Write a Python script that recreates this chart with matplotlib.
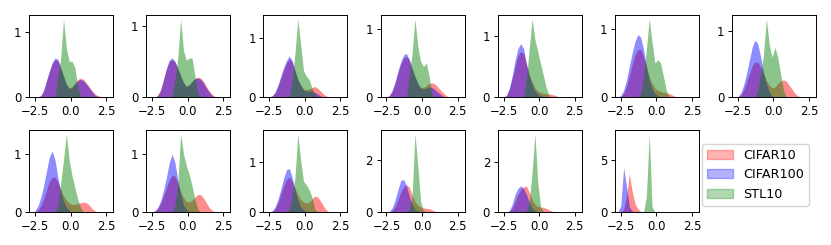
import matplotlib.pyplot as plt
from matplotlib.patches import Patch
from matplotlib.ticker import MaxNLocator
import numpy as np

plt.rcParams['font.size'] = 8.4

# density values read at bin centres -2.9, -2.7, ..., 2.9 (step 0.2)
centres = np.round(np.arange(-2.9, 2.91, 0.2), 2)

# one list per panel (13 panels)
cifar10 = [
    [0, 0, 0, 0, .02, .10, .24, .38, .50, .57, .56, .45, .32, .20, .14, .16, .22, .27, .29, .27, .22, .16, .10, .05, .02, .01, 0, 0, 0, 0],
    [0, 0, 0, 0, .03, .11, .25, .40, .50, .53, .50, .40, .30, .20, .15, .17, .22, .26, .28, .27, .22, .15, .09, .04, .01, 0, 0, 0, 0, 0],
    [0, 0, 0, .02, .07, .18, .32, .46, .58, .65, .60, .45, .30, .20, .14, .12, .14, .16, .18, .15, .10, .05, .02, 0, 0, 0, 0, 0, 0, 0],
    [0, 0, 0, .02, .08, .20, .35, .48, .57, .60, .55, .42, .30, .20, .14, .14, .17, .20, .21, .19, .15, .10, .06, .02, 0, 0, 0, 0, 0, 0],
    [0, 0, 0, .02, .12, .30, .50, .68, .75, .72, .55, .38, .25, .15, .10, .07, .06, .05, .05, .04, .03, .01, 0, 0, 0, 0, 0, 0, 0, 0],
    [0, 0, .01, .05, .15, .30, .48, .62, .70, .70, .60, .45, .30, .20, .13, .10, .08, .07, .06, .05, .03, .01, 0, 0, 0, 0, 0, 0, 0, 0],
    [0, 0, 0, .03, .10, .22, .35, .47, .53, .52, .45, .35, .25, .18, .14, .15, .20, .24, .26, .24, .18, .12, .06, .02, 0, 0, 0, 0, 0, 0],
    [0, 0, 0, .03, .10, .22, .38, .52, .60, .60, .52, .40, .28, .20, .15, .13, .13, .14, .16, .17, .16, .12, .06, .02, 0, 0, 0, 0, 0, 0],
    [0, 0, 0, .02, .06, .15, .28, .42, .55, .63, .62, .50, .35, .25, .18, .17, .20, .26, .30, .30, .24, .16, .08, .03, 0, 0, 0, 0, 0, 0],
    [0, 0, 0, .01, .06, .18, .35, .52, .65, .70, .62, .48, .35, .25, .20, .18, .20, .26, .32, .30, .22, .12, .04, 0, 0, 0, 0, 0, 0, 0],
    [0, 0, 0, 0, .05, .20, .45, .75, .95, 1.05, .95, .65, .40, .25, .18, .15, .14, .12, .08, .03, 0, 0, 0, 0, 0, 0, 0, 0, 0, 0],
    [0, 0, 0, 0, .03, .15, .40, .70, .90, 1.00, 1.05, .80, .50, .30, .22, .20, .18, .14, .08, .03, 0, 0, 0, 0, 0, 0, 0, 0, 0, 0],
    [0, 0, 0, .20, 1.50, 3.70, 2.00, .80, .30, .05, 0, 0, 0, 0, 0, 0, 0, 0, 0, 0, 0, 0, 0, 0, 0, 0, 0, 0, 0, 0],
]
cifar100 = [
    [0, 0, 0, 0, .02, .10, .25, .40, .53, .60, .58, .45, .32, .20, .13, .15, .20, .25, .27, .25, .20, .14, .08, .03, .01, 0, 0, 0, 0, 0],
    [0, 0, 0, 0, .02, .10, .25, .40, .52, .55, .50, .40, .30, .20, .15, .17, .22, .26, .27, .25, .20, .13, .07, .02, 0, 0, 0, 0, 0, 0],
    [0, 0, 0, .02, .08, .20, .35, .50, .62, .70, .62, .45, .30, .20, .12, .10, .10, .10, .08, .05, .02, 0, 0, 0, 0, 0, 0, 0, 0, 0],
    [0, 0, 0, .02, .10, .22, .38, .52, .62, .64, .55, .42, .30, .20, .13, .12, .13, .15, .14, .11, .07, .04, .01, 0, 0, 0, 0, 0, 0, 0],
    [0, 0, 0, .03, .15, .35, .60, .80, .88, .80, .55, .35, .20, .10, .05, .02, .01, 0, 0, 0, 0, 0, 0, 0, 0, 0, 0, 0, 0, 0],
    [0, 0, .02, .10, .25, .45, .65, .82, .92, .88, .70, .45, .25, .12, .05, .02, 0, 0, 0, 0, 0, 0, 0, 0, 0, 0, 0, 0, 0, 0],
    [0, 0, .01, .06, .18, .35, .55, .75, .86, .80, .60, .38, .20, .08, .02, 0, 0, 0, 0, 0, 0, 0, 0, 0, 0, 0, 0, 0, 0, 0],
    [0, 0, .02, .10, .25, .45, .70, .95, 1.05, .90, .60, .35, .18, .08, .03, 0, 0, 0, 0, 0, 0, 0, 0, 0, 0, 0, 0, 0, 0, 0],
    [0, 0, 0, .02, .08, .20, .38, .60, .85, 1.00, .85, .55, .30, .12, .04, .01, 0, 0, 0, 0, 0, 0, 0, 0, 0, 0, 0, 0, 0, 0],
    [0, 0, 0, .02, .10, .25, .45, .68, .85, .88, .70, .45, .25, .10, .04, .01, 0, 0, 0, 0, 0, 0, 0, 0, 0, 0, 0, 0, 0, 0],
    [0, 0, 0, .02, .15, .45, .85, 1.20, 1.25, 1.00, .60, .30, .10, .03, 0, 0, 0, 0, 0, 0, 0, 0, 0, 0, 0, 0, 0, 0, 0, 0],
    [0, 0, 0, 0, .05, .30, .70, .95, 1.05, .95, .70, .40, .15, .05, 0, 0, 0, 0, 0, 0, 0, 0, 0, 0, 0, 0, 0, 0, 0, 0],
    [0, 0, .60, 4.30, 2.50, .50, .10, 0, 0, 0, 0, 0, 0, 0, 0, 0, 0, 0, 0, 0, 0, 0, 0, 0, 0, 0, 0, 0, 0, 0],
]
stl10 = [
    [0, 0, 0, 0, 0, 0, 0, 0, 0, 0, .30, .60, 1.20, .75, .55, .55, .45, .15, .02, 0, 0, 0, 0, 0, 0, 0, 0, 0, 0, 0],
    [0, 0, 0, 0, 0, 0, 0, 0, 0, 0, .25, .55, 1.10, .65, .52, .55, .55, .30, .05, 0, 0, 0, 0, 0, 0, 0, 0, 0, 0, 0],
    [0, 0, 0, 0, 0, 0, 0, 0, 0, 0, .30, .75, 1.33, .90, .45, .35, .30, .15, .03, 0, 0, 0, 0, 0, 0, 0, 0, 0, 0, 0],
    [0, 0, 0, 0, 0, 0, 0, 0, 0, 0, .30, .65, 1.15, .75, .52, .45, .50, .30, .03, 0, 0, 0, 0, 0, 0, 0, 0, 0, 0, 0],
    [0, 0, 0, 0, 0, 0, 0, 0, 0, 0, .30, .80, 1.29, .95, .75, .55, .35, .15, .02, 0, 0, 0, 0, 0, 0, 0, 0, 0, 0, 0],
    [0, 0, 0, 0, 0, 0, 0, 0, 0, .05, .30, .70, 1.15, .80, .50, .55, .50, .30, .10, .01, 0, 0, 0, 0, 0, 0, 0, 0, 0, 0],
    [0, 0, 0, 0, 0, 0, 0, 0, 0, .10, .35, .65, 1.18, .80, .60, .75, .60, .35, .10, 0, 0, 0, 0, 0, 0, 0, 0, 0, 0, 0],
    [0, 0, 0, 0, 0, 0, 0, 0, 0, 0, .10, .50, .90, 1.35, .90, .62, .42, .22, .08, 0, 0, 0, 0, 0, 0, 0, 0, 0, 0, 0],
    [0, 0, 0, 0, 0, 0, 0, 0, 0, 0, .10, .50, 1.35, 1.00, .80, .65, .45, .22, .05, 0, 0, 0, 0, 0, 0, 0, 0, 0, 0, 0],
    [0, 0, 0, 0, 0, 0, 0, 0, 0, .05, .30, .70, 1.58, 1.05, .62, .55, .45, .30, .05, 0, 0, 0, 0, 0, 0, 0, 0, 0, 0, 0],
    [0, 0, 0, 0, 0, 0, 0, 0, 0, 0, .10, .60, 3.00, 1.80, .40, .05, 0, 0, 0, 0, 0, 0, 0, 0, 0, 0, 0, 0, 0, 0],
    [0, 0, 0, 0, 0, 0, 0, 0, 0, 0, .05, .40, 1.60, 3.15, 1.20, .20, 0, 0, 0, 0, 0, 0, 0, 0, 0, 0, 0, 0, 0, 0],
    [0, 0, 0, 0, 0, 0, 0, 0, 0, 0, 0, 1.50, 7.60, .50, 0, 0, 0, 0, 0, 0, 0, 0, 0, 0, 0, 0, 0, 0, 0, 0],
]

names = ['CIFAR10', 'CIFAR100', 'STL10']
colors = ['red', 'blue', 'green']

fig, axes = plt.subplots(2, 7, figsize=(8.31, 2.45), dpi=100)
fig.subplots_adjust(left=0.035, right=0.982, top=0.939, bottom=0.135,
                    wspace=0.393, hspace=0.40)

for i, ax in enumerate(axes.flat[:13]):
    top = 0
    for data, c in zip([cifar10, cifar100, stl10], colors):
        ax.fill_between(centres, data[i], color=c, alpha=0.45, linewidth=0)
        top = max(top, max(data[i]))
    ax.set_xlim(-2.92, 2.99)
    ax.set_ylim(0, top * 1.05)
    ax.set_xticks([-2.5, 0, 2.5])
    ax.yaxis.set_major_locator(MaxNLocator(nbins=2, steps=[1, 2, 2.5, 5, 10]))
    ax.tick_params(length=3, width=0.7, pad=2.5)
    for s in ax.spines.values():
        s.set_linewidth(0.7)

axes.flat[13].axis('off')
handles = [Patch(color=c, alpha=0.3) for c in colors]
fig.legend(handles, names, loc='center left', bbox_to_anchor=(0.837, 0.286),
           bbox_transform=fig.transFigure, fontsize=9.2)

fig.savefig('out.png')
